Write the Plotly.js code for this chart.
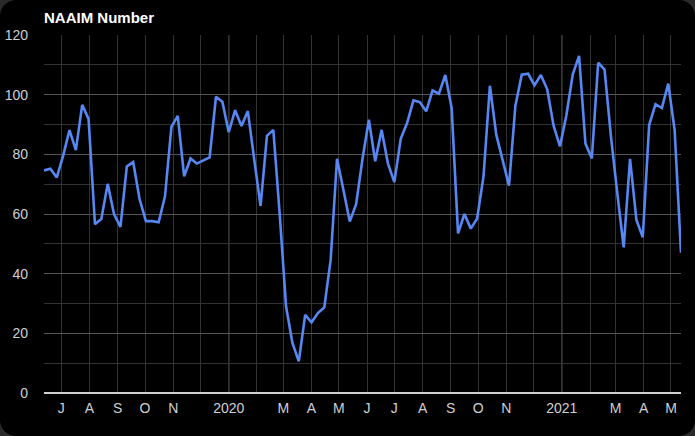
<!DOCTYPE html>
<html>
<head>
<meta charset="utf-8">
<script src="https://cdn.plot.ly/plotly-3.0.1.min.js"></script>
<style>
  html, body { margin:0; padding:0; background:#2a2a2a; width:695px; height:436px; overflow:hidden; }
  #chart { width:695px; height:436px; background:#000; border-radius:16px; overflow:hidden; }
</style>
</head>
<body>
<div id="chart"></div>
<script>
const dates = [
  "2019-06-12","2019-06-19","2019-06-26","2019-07-03","2019-07-10","2019-07-17","2019-07-24","2019-07-31",
  "2019-08-07","2019-08-14","2019-08-21","2019-08-28","2019-09-04","2019-09-11","2019-09-18","2019-09-25",
  "2019-10-02","2019-10-09","2019-10-16","2019-10-23","2019-10-30","2019-11-06","2019-11-13","2019-11-20",
  "2019-11-27","2019-12-04","2019-12-11","2019-12-18","2019-12-25",
  "2020-01-01","2020-01-08","2020-01-15","2020-01-22","2020-01-29","2020-02-05","2020-02-12","2020-02-19",
  "2020-02-26","2020-03-04","2020-03-11","2020-03-18","2020-03-25","2020-04-01","2020-04-08","2020-04-15",
  "2020-04-22","2020-04-29","2020-05-06","2020-05-13","2020-05-20","2020-05-27","2020-06-03","2020-06-10",
  "2020-06-17","2020-06-24","2020-07-01","2020-07-08","2020-07-15","2020-07-22","2020-07-29","2020-08-05",
  "2020-08-12","2020-08-19","2020-08-26","2020-09-02","2020-09-09","2020-09-16","2020-09-23","2020-09-30",
  "2020-10-07","2020-10-14","2020-10-21","2020-10-28","2020-11-04","2020-11-11","2020-11-18","2020-11-25",
  "2020-12-02","2020-12-09","2020-12-16","2020-12-23","2020-12-30",
  "2021-01-06","2021-01-13","2021-01-20","2021-01-27","2021-02-03","2021-02-10","2021-02-17","2021-02-24",
  "2021-03-03","2021-03-10","2021-03-17","2021-03-24","2021-03-31","2021-04-07","2021-04-14","2021-04-21",
  "2021-04-28","2021-05-05","2021-05-12"
];
const naaim = [
  74.6, 75.2, 72.2, 79.5, 88.1, 81.4, 96.6, 91.8,
  56.6, 58.3, 70.1, 59.9, 55.7, 75.9, 77.4, 65.0,
  57.6, 57.6, 57.2, 66.0, 89.2, 92.9, 72.6, 78.6,
  76.9, 77.9, 79.0, 99.3, 97.6,
  87.4, 94.8, 89.5, 94.5, 78.3, 62.7, 86.2, 88.2,
  60.0, 29.0, 16.8, 10.6, 26.2, 23.7, 26.8, 28.7,
  44.6, 78.5, 68.1, 57.5, 63.3, 78.5, 91.6, 77.7,
  88.2, 76.9, 70.7, 85.2, 90.5, 98.1, 97.5, 94.4,
  101.4, 100.3, 106.6, 95.5, 53.5, 60.0, 55.1, 58.5,
  72.7, 103.0, 86.6, 77.8, 69.5, 96.3, 106.7, 107.0,
  103.2, 106.6, 101.8, 89.6, 82.7,
  93.0, 106.7, 113.0, 83.6, 78.6, 110.7, 108.4, 86.0,
  67.0, 48.8, 78.5, 58.0, 52.2, 89.8, 96.8, 95.5,
  103.7, 88.2, 47.0
];
const monthTicks = [
  "2019-07-01","2019-08-01","2019-09-01","2019-10-01","2019-11-01","2019-12-01",
  "2020-01-01","2020-02-01","2020-03-01","2020-04-01","2020-05-01","2020-06-01",
  "2020-07-01","2020-08-01","2020-09-01","2020-10-01","2020-11-01","2020-12-01",
  "2021-01-01","2021-02-01","2021-03-01","2021-04-01","2021-05-01"
];
const monthLabels = [
  "J","A","S","O","N","",
  "2020","","M","A","M","J",
  "J","A","S","O","N","",
  "2021","","M","A","M"
];
const yearLines = ["2020-01-01","2021-01-01"];

const trace = {
  x: dates, y: naaim, type: 'scatter', mode: 'lines',
  line: {color: '#5787f2', width: 2.6}, hoverinfo: 'x+y'
};

const shapes = yearLines.map(d => ({
  type: 'line', xref: 'x', yref: 'paper', x0: d, x1: d, y0: 0, y1: 1,
  line: {color: '#5e5e5e', width: 1.3}, layer: 'below'
}));

const layout = {
  width: 695, height: 436,
  paper_bgcolor: 'rgba(0,0,0,0)', plot_bgcolor: '#000',
  margin: {l: 44, r: 14, t: 35, b: 43},
  showlegend: false,
  font: {family: 'Liberation Sans, Arial, sans-serif', color: '#d0d0d0', size: 14},
  title: {
    text: '<b>NAAIM Number</b>', x: 44/695, xanchor: 'left', xref: 'container',
    y: 1 - 17.5/436, yanchor: 'middle', yref: 'container',
    font: {family: 'Liberation Sans, Arial, sans-serif', size: 15, color: '#ffffff'}
  },
  xaxis: {
    type: 'date', range: ["2019-06-12", "2021-05-12"],
    tickmode: 'array', tickvals: monthTicks, ticktext: monthLabels,
    showgrid: true, gridcolor: '#333333', gridwidth: 1,
    ticks: '', showline: false, zeroline: false,
    tickfont: {size: 14, color: '#d0d0d0'}, ticklabelstandoff: 5,
    fixedrange: true
  },
  yaxis: {
    range: [0, 120], tickmode: 'linear', tick0: 0, dtick: 20,
    showgrid: true, gridcolor: '#555555', gridwidth: 1,
    minor: {dtick: 10, tick0: 0, showgrid: true, gridcolor: '#333333', gridwidth: 1, ticks: ''},
    zeroline: true, zerolinecolor: '#d0d0d0', zerolinewidth: 2,
    ticks: '', showline: false,
    tickfont: {size: 14, color: '#d0d0d0'}, ticklabelstandoff: 15,
    fixedrange: true
  },
  shapes: shapes
};

Plotly.newPlot('chart', [trace], layout, {displayModeBar: false, staticPlot: true});
</script>
</body>
</html>
